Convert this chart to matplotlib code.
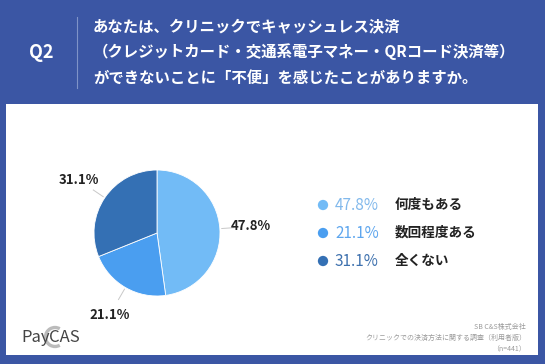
import matplotlib.pyplot as plt
import numpy as np
from matplotlib.patches import Rectangle, Arc

plt.rcParams['font.family'] = ['Noto Sans CJK JP', 'DejaVu Sans']

# データ
labels = ['何度もある', '数回程度ある', '全くない']
values = [47.8, 21.1, 31.1]
colors = ['#72bbf6', '#4a9ef0', '#3470b4']
pct_colors = ['#82b9ec', '#5ea6ee', '#3e71ae']

title_lines = ['あなたは、クリニックでキャッシュレス決済',
               '（クレジットカード・交通系電子マネー・QRコード決済等）',
               'ができないことに「不便」を感じたことがありますか。']
footer_lines = ['SB C&S株式会社',
                'クリニックでの決済方法に関する調査（利用者版）',
                '（n=441）']

W, H = 545, 364
fig = plt.figure(figsize=(W / 100, H / 100), dpi=100)
fig.patch.set_facecolor('#3b56a4')

# 背景・テキスト用の軸（ピクセル座標）
bg = fig.add_axes([0, 0, 1, 1])
bg.set_xlim(0, W)
bg.set_ylim(H, 0)
bg.axis('off')
bg.add_patch(Rectangle((6, 104), 532, 251, facecolor='white', edgecolor='none'))

# ヘッダー
bg.text(41, 52, 'Q2', color='white', fontsize=13, fontweight='bold',
        ha='center', va='center')
bg.plot([77, 77], [17, 88], color='#7f93c8', lw=0.8)
for i, line in enumerate(title_lines):
    bg.text(93, 26 + i * 26, line, color='white', fontsize=11.1,
            fontweight='bold', ha='left', va='center')

# 凡例
for i, (lab, v) in enumerate(zip(labels, values)):
    y = 205 + i * 28
    bg.scatter([323], [y], s=55, color=colors[i], edgecolors='none')
    bg.text(335, y, f'{v:.1f}%', color=pct_colors[i], fontsize=11,
            ha='left', va='center')
    bg.text(395, y, lab, color='#222222', fontsize=9.8, fontweight='bold',
            ha='left', va='center')

# フッター
for i, line in enumerate(footer_lines):
    bg.text(526, 327 + i * 11, line, color='#9a9a9a', fontsize=5,
            ha='right', va='center')

# ロゴ
bg.text(21, 337, 'Pay', color='#444444', fontsize=12, ha='left', va='center')
bg.add_patch(Arc((55, 337), 19, 19, theta1=60, theta2=300, color='#bbbbbb', lw=2.4))
bg.text(49, 337, 'CAS', color='#444444', fontsize=12, ha='left', va='center')

# 円グラフ
cx, cy, r = 157, 233, 63
pie_ax = fig.add_axes([(cx - r) / W, 1 - (cy + r) / H, 2 * r / W, 2 * r / H])
wedges, _ = pie_ax.pie(values, colors=colors, startangle=90, counterclock=False,
                       radius=1, wedgeprops=dict(linewidth=0.6, edgecolor='white'))
pie_ax.set_xlim(-1, 1)
pie_ax.set_ylim(-1, 1)
pie_ax.set_aspect('equal')
pie_ax.axis('off')

for w, v in zip(wedges, values):
    ang = np.deg2rad((w.theta1 + w.theta2) / 2)
    ca, sa = np.cos(ang), np.sin(ang)
    pie_ax.plot([1.03 * ca, 1.22 * ca], [1.03 * sa, 1.22 * sa], color='#c8c8c8',
                lw=0.7, clip_on=False)
    pie_ax.text(1.5 * ca, 1.5 * sa, f'{v:.1f}%', fontsize=9.5, fontweight='bold',
                color='#222222', ha='center', va='center', clip_on=False)

fig.savefig('out.png', dpi=100, facecolor=fig.get_facecolor())
